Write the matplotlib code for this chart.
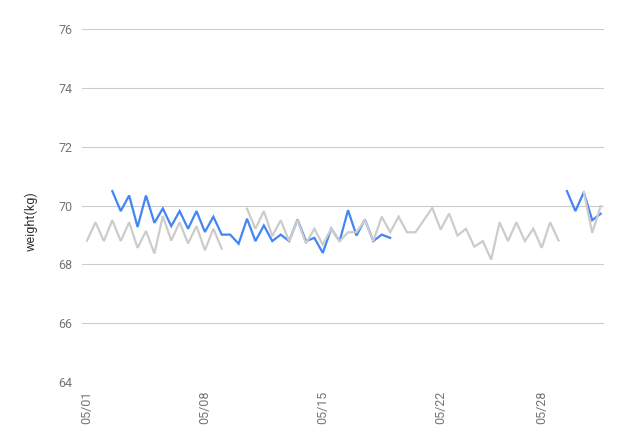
import matplotlib.pyplot as plt
import numpy as np

plt.rcParams['font.family'] = ['Roboto', 'DejaVu Sans']

# two readings per day (AM / PM), index 0 = 05/01 AM
blue_weight = [None, None, None, 70.49, 69.81, 70.34, 69.27, 70.34, 69.41, 69.90,
               69.30, 69.81, 69.21, 69.81, 69.10, 69.62, 69.01, 69.01, 68.70, 69.55,
               68.79, 69.32, 68.79, 69.01, 68.79, 69.52, 68.79, 68.90, 68.39, 69.21,
               68.79, 69.84, 68.98, 69.52, 68.79, 69.01, 68.90, None, None, None,
               None, None, None, None, None, None, None, None, None, None,
               None, None, None, None, None, None, None, 70.49, 69.81, 70.45,
               69.50, 69.72]
gray_weight = [68.81, 69.43, 68.79, 69.50, 68.79, 69.43, 68.56, 69.13, 68.37, 69.64,
               68.81, 69.43, 68.71, 69.30, 68.48, 69.21, 68.53, None, None, 69.89,
               69.21, 69.81, 68.96, 69.50, 68.79, 69.50, 68.71, 69.21, 68.67, 69.21,
               68.79, 69.09, 69.09, 69.50, 68.79, 69.62, 69.09, 69.62, 69.09, 69.09,
               69.50, 69.92, 69.18, 69.73, 68.98, 69.21, 68.60, 68.79, 68.16, 69.43,
               68.79, 69.43, 68.79, 69.21, 68.56, 69.43, 68.81, None, None, 70.47,
               69.07, 69.98]
tick_pos = [0, 14, 28, 42, 54]
tick_labels = ['05/01', '05/08', '05/15', '05/22', '05/28']
y_ticks = [64, 66, 68, 70, 72, 74, 76]

blue = np.array(blue_weight, dtype=float)
gray = np.array(gray_weight, dtype=float)
x = np.arange(len(gray))

fig = plt.figure(figsize=(6.27, 4.44), dpi=100)
ax = fig.add_axes([82 / 627, 1 - 382 / 444, (604 - 82) / 627, (382 - 29) / 444])

ax.plot(x, blue, color='#4285f4', lw=1.6, solid_joinstyle='miter')
ax.plot(x, gray, color='#cccccc', lw=1.6, solid_joinstyle='miter')

ax.set_ylim(64, 76)
ax.set_xlim(-0.6, 61.4)
ax.set_yticks(y_ticks)
ax.set_xticks(tick_pos)
ax.set_xticklabels(tick_labels, rotation=90)
ax.grid(axis='y', color='#cccccc', lw=0.8)
ax.set_axisbelow(True)
for s in ax.spines.values():
    s.set_visible(False)
ax.tick_params(axis='both', length=0, colors='#757575', labelsize=9)
ax.tick_params(axis='y', pad=7)
ax.tick_params(axis='x', pad=6)

fig.text(31 / 627, 1 - 221 / 444, 'weight(kg)', rotation=90, ha='center', va='center',
         fontsize=9, color='#333333')

plt.savefig('out.png', dpi=100)
